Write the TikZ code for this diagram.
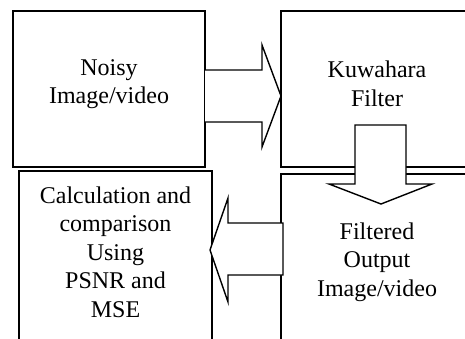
\documentclass[tikz,border=0pt]{standalone}
\usepackage{fontspec}
\setmainfont{Liberation Serif}
\usepackage{xcolor}
\usepackage{tikz}
\definecolor{kink}{HTML}{000000}
\tikzset{
  kbox/.style={rectangle, draw=kink, line width=1.4pt, inner sep=0pt},
  klabel/.style={align=center, inner sep=0pt, text=kink, font=\fontsize{24}{28.5}\selectfont},
  karrow/.style={draw=kink, fill=white, line width=1.4pt, line join=miter}
}

\begin{document}
\begin{tikzpicture}[x=1pt, y=-1pt]
  \useasboundingbox (0,0) rectangle (465,338);
  \clip (0,0) rectangle (465,338);
  % boxes
  \node[kbox, minimum width=192pt, minimum height=156pt] (noisy) at (109,89) {};
  \node[kbox, minimum width=192pt, minimum height=156pt] (kuwahara) at (377,89) {};
  \node[kbox, minimum width=192pt, minimum height=186pt] (filtered) at (377,267) {};
  \node[kbox, minimum width=193pt, minimum height=189pt] (calc) at (115.5,265.5) {};
  % texts
  \node[klabel] (noisytxt) at (109,84) {Noisy\\Image/video};
  \node[klabel] (kuwaharatxt) at (377,84) {Kuwahara\\Filter};
  \node[klabel] (filteredtxt) at (377,262) {Filtered\\Output\\Image/video};
  \node[klabel] (calctxt) at (115.5,252) {Calculation and\\comparison\\Using\\PSNR and\\MSE};
  % block arrows
  \path[karrow] (205,70) -- (262,70) -- (262,45) -- (281,96) -- (262,147) -- (262,122) -- (205,122);
  \path[karrow] (355,125) -- (406,125) -- (406,184) -- (432,184) -- (381,204) -- (329,184) -- (355,184) -- cycle;
  \path[karrow] (283,223) -- (228,223) -- (228,198) -- (210,250) -- (228,302) -- (228,275) -- (283,275) -- cycle;
\end{tikzpicture}
\end{document}
